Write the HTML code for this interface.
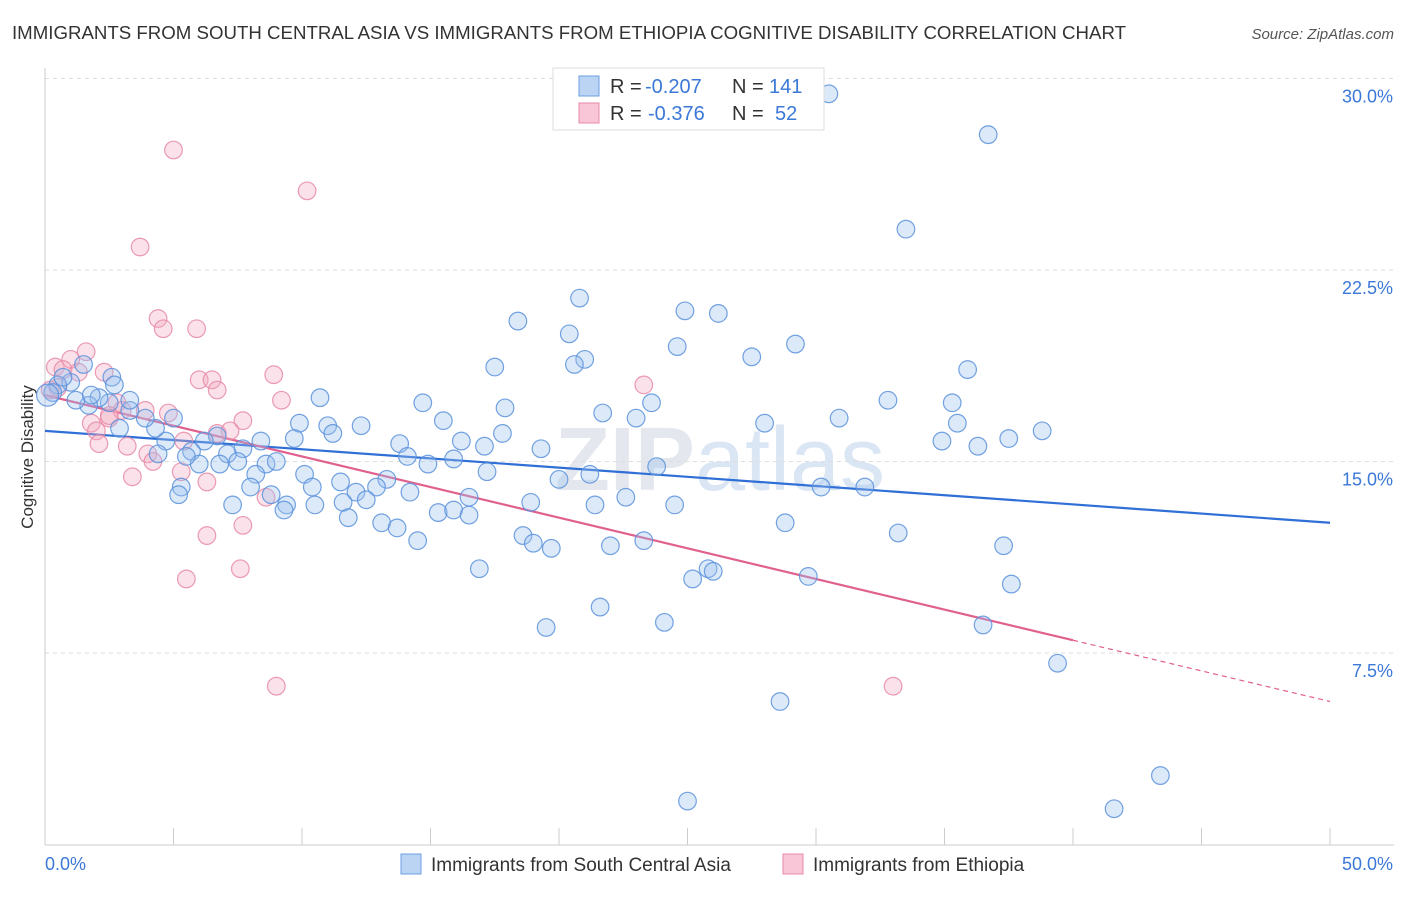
<!DOCTYPE html>
<html><head><meta charset="utf-8"><style>
body{margin:0;background:#fff;font-family:"Liberation Sans",sans-serif;}
svg text{font-family:"Liberation Sans",sans-serif;}
</style></head><body>
<svg id="chart" width="1406" height="892">
<text x="12" y="39" font-size="18" fill="#333" textLength="1114" lengthAdjust="spacingAndGlyphs">IMMIGRANTS FROM SOUTH CENTRAL ASIA VS IMMIGRANTS FROM ETHIOPIA COGNITIVE DISABILITY CORRELATION CHART</text>
<text x="1394" y="39" font-size="15" fill="#555" text-anchor="end" font-style="italic">Source: ZipAtlas.com</text>
<text x="720" y="490" font-size="90" fill="#e4e8ee" text-anchor="middle" font-weight="bold">ZIP<tspan fill="#dbe6f5" font-weight="normal">atlas</tspan></text>
<g id="grid"></g><g id="axes"></g><g id="trends"></g><g id="pts"></g>
<text transform="translate(33,457) rotate(-90)" font-size="17" fill="#333" text-anchor="middle">Cognitive Disability</text>
<g>
<rect x="553" y="68" width="271" height="62" fill="#fff" stroke="#ddd"/>
<rect x="579" y="76" width="20" height="20" fill="#bcd4f4" stroke="#6a9fe0"/>
<rect x="579" y="103" width="20" height="20" fill="#f8c6d6" stroke="#e88aa8"/>
<text x="610" y="93" font-size="20" fill="#333">R =</text>
<text x="645" y="93" font-size="20" fill="#3b78d8">-0.207</text>
<text x="732" y="93" font-size="20" fill="#333">N =</text>
<text x="769" y="93" font-size="20" fill="#3b78d8">141</text>
<text x="610" y="120" font-size="20" fill="#333">R =</text>
<text x="648" y="120" font-size="20" fill="#3b78d8">-0.376</text>
<text x="732" y="120" font-size="20" fill="#333">N =</text>
<text x="775" y="120" font-size="20" fill="#3b78d8">52</text>
</g>
<g>
<rect x="401" y="854" width="20" height="20" fill="#bcd4f4" stroke="#6a9fe0"/>
<text x="431" y="871" font-size="19" fill="#333">Immigrants from South Central Asia</text>
<rect x="783" y="854" width="20" height="20" fill="#f8c6d6" stroke="#e88aa8"/>
<text x="813" y="871" font-size="19" fill="#333">Immigrants from Ethiopia</text>
</g>
</svg>
<script>
const blueX=[36.7,33.5,30.5,20.8,18.4,20.4,24.9,26.2,24.6,29.2,27.5,21.0,20.6,17.5,35.9,32.8,35.3,23.6,21.7,23.0,17.9,14.7,30.9,28.0,35.5,38.8,37.5,34.9,36.3,15.5,17.8,16.2,17.1,19.3,13.8,14.1,14.9,15.9,17.2,23.8,21.2,20.0,30.2,31.9,16.5,18.9,21.4,22.6,24.5,14.2,13.3,12.9,12.1,11.5,12.5,11.6,11.8,15.3,15.9,16.5,13.1,13.7,14.5,18.6,19.0,19.7,22.0,23.3,28.8,33.2,37.3,16.9,25.2,25.8,26.0,29.7,37.6,21.6,19.5,24.1,36.5,39.4,28.6,43.4,25.0,41.6,10.7,9.9,11.0,11.2,12.3,9.7,8.4,7.7,7.1,6.7,6.2,5.7,8.6,9.0,8.2,7.5,6.8,6.0,5.5,10.1,10.4,8.0,8.8,9.4,10.5,7.3,5.3,5.2,9.3,4.7,5.0,4.3,3.9,3.3,2.9,2.5,2.1,1.7,1.2,3.3,2.6,2.7,1.5,1.0,0.5,0.3,0.1,0.7,1.8,4.4];
const blueY=[27.8,24.1,29.4,21.4,20.5,20.0,20.9,20.8,19.5,19.6,19.1,19.0,18.8,18.7,18.6,17.4,17.3,17.3,16.9,16.7,17.1,17.3,16.7,16.5,16.5,16.2,15.9,15.8,15.6,16.6,16.1,15.8,15.6,15.5,15.7,15.2,14.9,15.1,14.6,14.8,14.5,14.3,14.0,14.0,13.6,13.4,13.3,13.6,13.3,13.8,14.3,14.0,13.8,14.2,13.5,13.4,12.8,13.0,13.1,12.9,12.6,12.4,11.9,12.1,11.8,11.6,11.7,11.9,12.6,12.2,11.7,10.8,10.4,10.8,10.7,10.5,10.2,9.3,8.5,8.7,8.6,7.1,5.6,2.7,1.7,1.4,17.5,16.5,16.4,16.1,16.4,15.9,15.8,15.5,15.3,16.0,15.8,15.4,14.9,15.0,14.5,15.0,14.9,14.9,15.2,14.5,14.0,14.0,13.7,13.3,13.3,13.3,14.0,13.7,13.1,15.8,16.7,16.3,16.7,17.0,16.3,17.3,17.5,17.2,17.4,17.4,18.3,18.0,18.8,18.1,18.0,17.7,17.6,18.3,17.6,15.3];
const pinkX=[5.0,10.2,3.7,4.4,4.6,5.9,1.6,1.0,0.4,0.7,1.3,2.3,8.9,6.0,6.5,6.7,23.3,9.2,2.8,3.9,4.8,2.5,3.0,7.7,1.8,2.0,7.2,6.7,5.4,2.1,3.2,4.0,4.2,5.3,3.4,6.3,8.6,7.7,6.3,7.6,5.5,9.0,33.0,0.2,0.5,2.5];
const pinkY=[27.2,25.6,23.4,20.6,20.2,20.2,19.3,19.0,18.7,18.6,18.5,18.5,18.4,18.2,18.2,17.8,18.0,17.4,17.3,17.0,16.9,16.7,17.0,16.6,16.5,16.2,16.2,16.1,15.8,15.7,15.6,15.3,15.0,14.6,14.4,14.2,13.6,12.5,12.1,10.8,10.4,6.2,6.2,17.8,17.9,16.8];
const blueTrend=[16.2,12.6];
const pinkTrend=[17.6,8.0,40];
const yTicks=[7.5,15.0,22.5,30.0];
const yTickLabels=["7.5%","15.0%","22.5%","30.0%"];
const xTicks=[0,5,10,15,20,25,30,35,40,45,50];
const NS="http://www.w3.org/2000/svg";
const sx=v=>45+v*25.7, sy=v=>844.5-v*25.533;
function mk(tag,attrs,parent){const e=document.createElementNS(NS,tag);for(const k in attrs)e.setAttribute(k,attrs[k]);document.getElementById(parent).appendChild(e);return e;}
yTicks.forEach((t,i)=>{
 const l=mk('line',{x1:45,x2:1394,y1:sy(t),y2:sy(t),stroke:'#ddd','stroke-dasharray':'4,4'},'grid');
 
 
 const tx=mk('text',{x:1393,y:sy(t)+24,'font-size':18,fill:'#3b78d8','text-anchor':'end'},'grid');
 tx.textContent=yTickLabels[i];
 
 
});
let ax=mk('line',{x1:45,x2:45,y1:68,y2:845,stroke:'#ccc'},'axes');


ax=mk('line',{x1:45,x2:1394,y1:845,y2:845,stroke:'#ccc'},'axes');


xTicks.forEach(t=>{
 const l=mk('line',{x1:sx(t),x2:sx(t),y1:828,y2:845,stroke:'#ccc'},'axes');
 
 
});
let xl=mk('text',{x:45,y:870,'font-size':18,fill:'#3b78d8'},'axes');xl.textContent=xTicks[0].toFixed(1)+'%';


xl=mk('text',{x:1393,y:870,'font-size':18,fill:'#3b78d8','text-anchor':'end'},'axes');xl.textContent=xTicks[xTicks.length-1].toFixed(1)+'%';


function pts(X,Y,fill,stroke,name){X.forEach((x,i)=>{
 const c=mk('circle',{cx:sx(x),cy:sy(Y[i]),r:(x<0.2?11:8.8),fill:fill,'fill-opacity':0.35,stroke:stroke,'stroke-opacity':0.85,'stroke-width':1.2},'pts');
 
 
});}
pts(pinkX,pinkY,'#f4a8c0','#e88aa8','ethiopia-point');
pts(blueX,blueY,'#9cc0ee','#5a92dc','south-central-asia-point');
let t=mk('line',{x1:sx(0),y1:sy(blueTrend[0]),x2:sx(50),y2:sy(blueTrend[1]),stroke:'#2f6fd6','stroke-width':2.2},'trends');


const ps=(pinkTrend[1]-pinkTrend[0])/pinkTrend[2];
t=mk('line',{x1:sx(0),y1:sy(pinkTrend[0]),x2:sx(pinkTrend[2]),y2:sy(pinkTrend[1]),stroke:'#e0608e','stroke-width':2.2},'trends');


t=mk('line',{x1:sx(pinkTrend[2]),y1:sy(pinkTrend[1]),x2:sx(50),y2:sy(pinkTrend[0]+ps*50),stroke:'#e0608e','stroke-width':1.2,'stroke-dasharray':'5,4'},'trends');


</script>
</body></html>
